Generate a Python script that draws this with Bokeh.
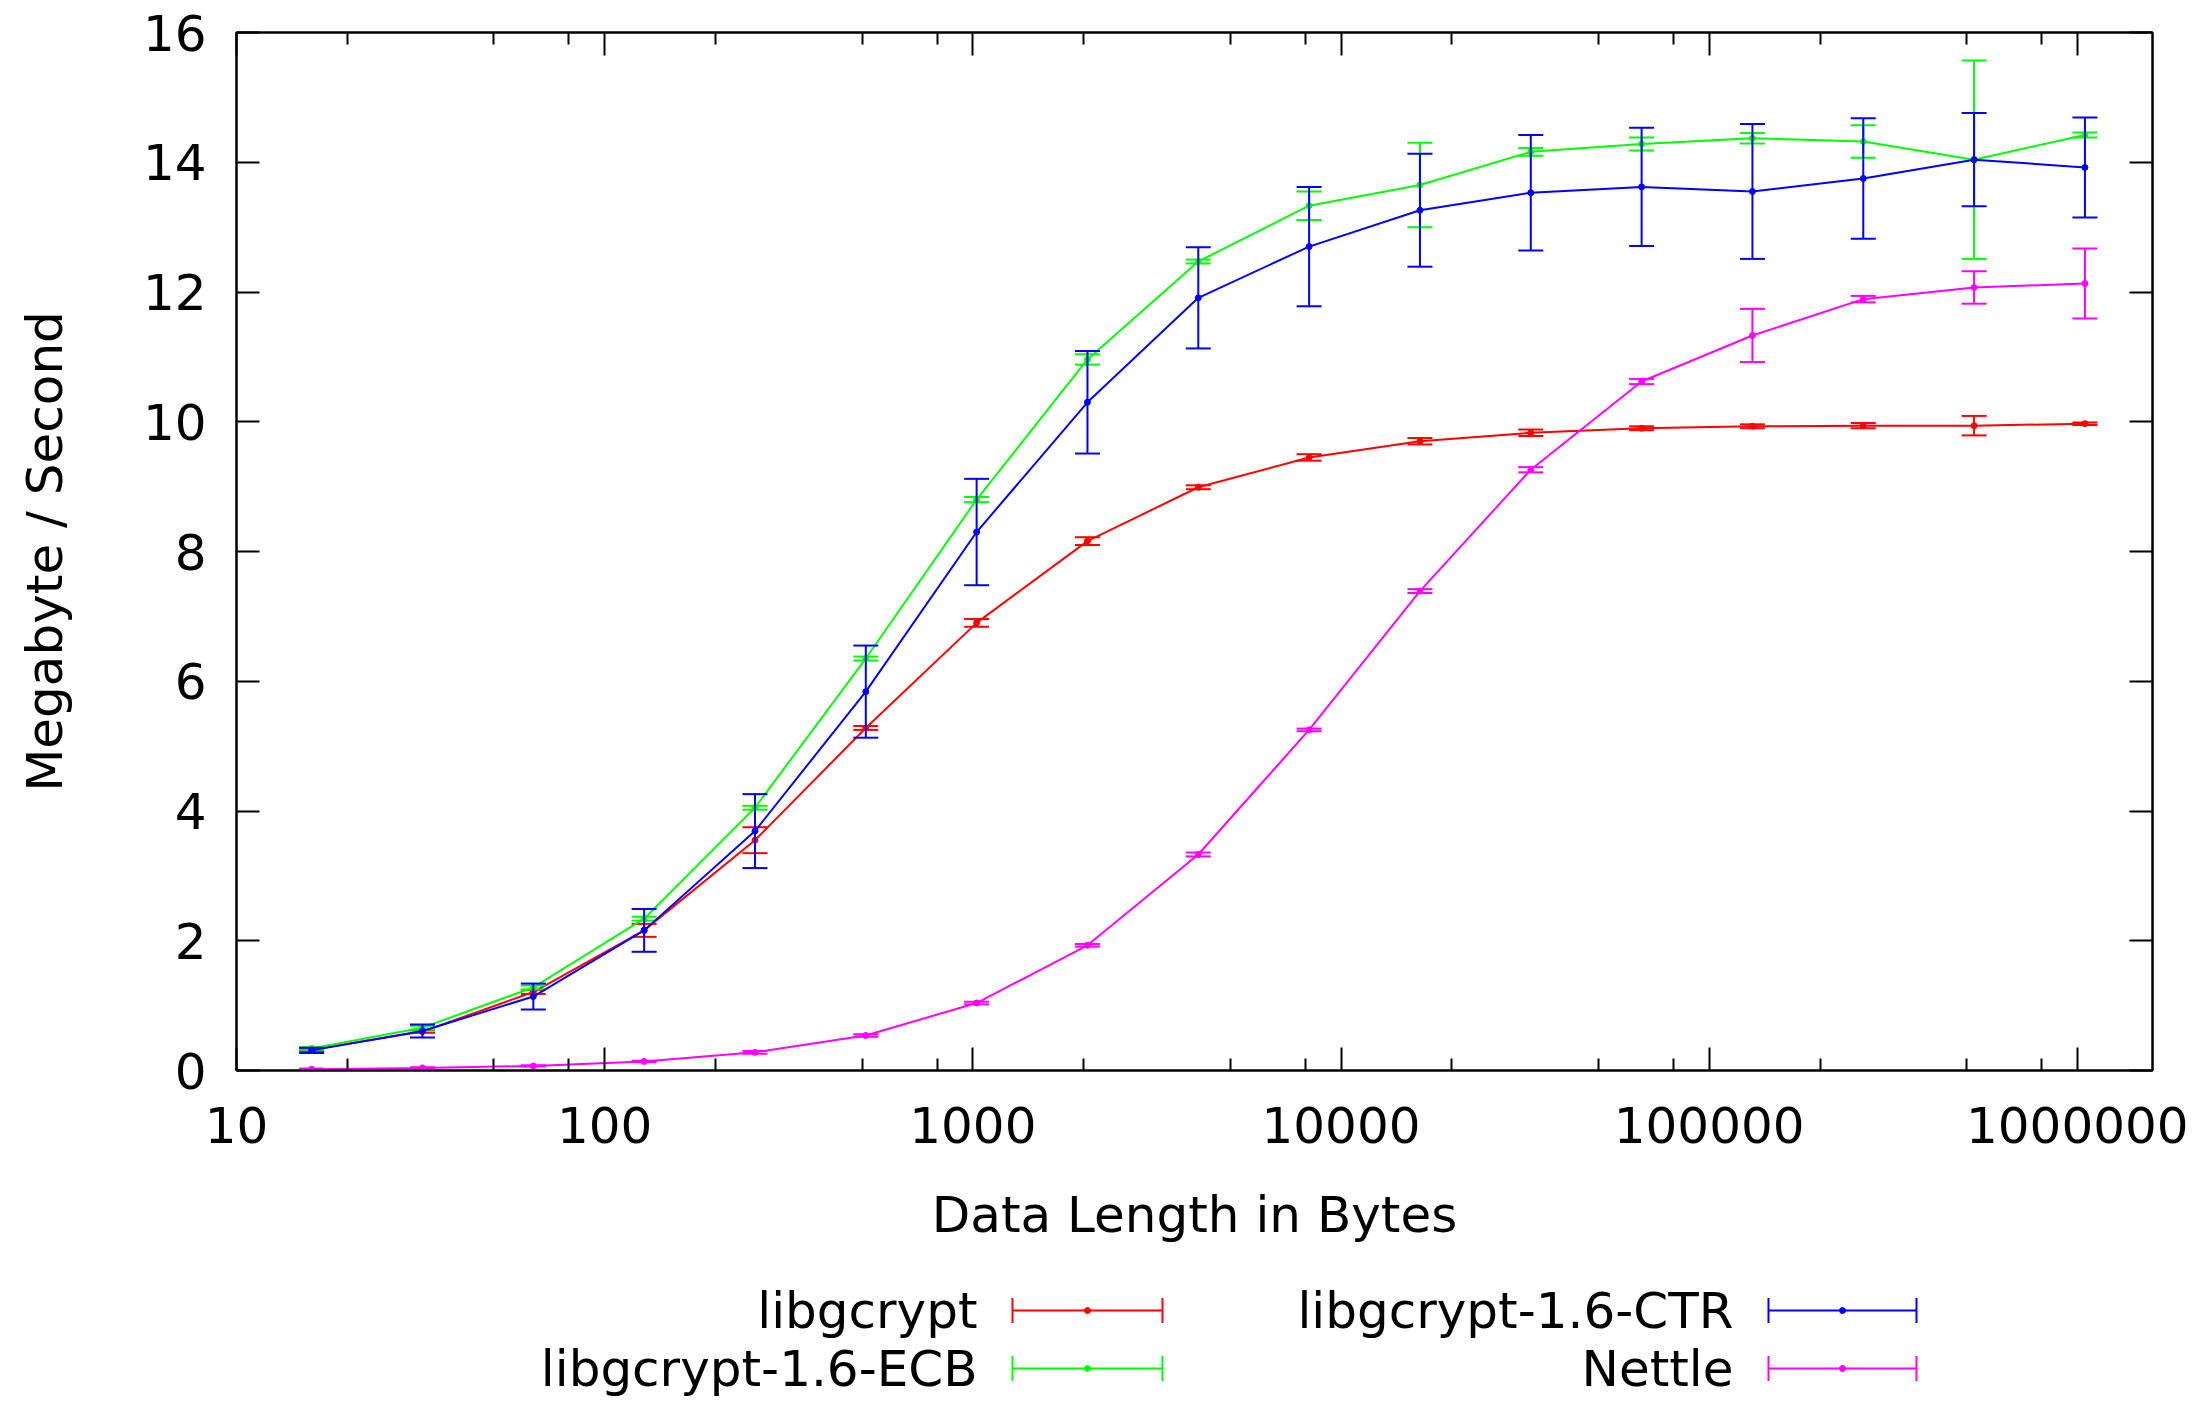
from bokeh.plotting import figure
from bokeh.models import (FixedTicker, LogAxis, LinearAxis, Range1d,
                          NumeralTickFormatter, ColumnDataSource)
from bokeh.layouts import column
from bokeh.core.properties import value
from bokeh.embed import file_html
from bokeh.resources import INLINE

# ---------------- data ----------------
data_length = [16, 32, 64, 128, 256, 512, 1024, 2048, 4096, 8192, 16384,
               32768, 65536, 131072, 262144, 524288, 1048576]

libgcrypt_mean = [0.32, 0.60, 1.21, 2.16, 3.55, 5.28, 6.90, 8.16, 8.99, 9.45,
                  9.70, 9.83, 9.90, 9.93, 9.94, 9.94, 9.97]
libgcrypt_err = [0.02, 0.02, 0.03, 0.10, 0.20, 0.03, 0.06, 0.06, 0.03, 0.05,
                 0.05, 0.05, 0.03, 0.03, 0.04, 0.15, 0.02]

ecb_mean = [0.34, 0.66, 1.28, 2.34, 4.05, 6.35, 8.80, 10.96, 12.47, 13.33,
            13.65, 14.16, 14.28, 14.37, 14.32, 14.04, 14.42]
ecb_err = [0.02, 0.03, 0.03, 0.03, 0.03, 0.03, 0.04, 0.08, 0.03, 0.22,
           0.65, 0.06, 0.10, 0.08, 0.25, 1.53, 0.04]

ctr_mean = [0.31, 0.61, 1.14, 2.16, 3.69, 5.84, 8.30, 10.30, 11.91, 12.70,
            13.26, 13.53, 13.62, 13.55, 13.75, 14.04, 13.92]
ctr_err = [0.04, 0.10, 0.20, 0.33, 0.57, 0.71, 0.82, 0.79, 0.78, 0.92,
           0.87, 0.89, 0.91, 1.04, 0.93, 0.72, 0.77]

nettle_mean = [0.02, 0.04, 0.07, 0.14, 0.28, 0.54, 1.04, 1.93, 3.33, 5.25,
               7.39, 9.26, 10.62, 11.33, 11.89, 12.07, 12.13]
nettle_err = [0.01, 0.01, 0.01, 0.01, 0.02, 0.02, 0.02, 0.02, 0.03, 0.02,
              0.03, 0.04, 0.04, 0.41, 0.05, 0.25, 0.54]

series_names = ["libgcrypt", "libgcrypt-1.6-ECB", "libgcrypt-1.6-CTR", "Nettle"]
series_colors = ["#ff0000", "#00ff00", "#0000ff", "#ff00ff"]
series_means = [libgcrypt_mean, ecb_mean, ctr_mean, nettle_mean]
series_errs = [libgcrypt_err, ecb_err, ctr_err, nettle_err]

x_major_ticks = [10, 100, 1000, 10000, 100000, 1000000]
x_minor_ticks = [m * d for d in [10, 100, 1000, 10000, 100000] for m in (2, 5, 8)]
y_ticks = [0, 2, 4, 6, 8, 10, 12, 14, 16]

x_label = "Data Length in Bytes"
y_label = "Megabyte / Second"

# ---------------- styling / layout ----------------
FONT = "DejaVu Sans"
FS = "50px"
W = 2190
BL, BR, BT = 236, 38, 32          # frame borders (left, right, top)
FRAME_H = 1038
H_MAIN = 1265
H_LEG = 135

p = figure(width=W, height=H_MAIN, x_axis_type="log",
           x_range=Range1d(10, 1.6e6), y_range=Range1d(0, 16),
           output_backend="svg", toolbar_location=None,
           min_border_left=BL, min_border_right=BR,
           min_border_top=BT, min_border_bottom=H_MAIN - BT - FRAME_H)
p.xgrid.visible = False
p.ygrid.visible = False
p.outline_line_color = "black"
p.outline_line_width = 2
p.background_fill_color = "white"
p.border_fill_color = "white"

xt = FixedTicker(ticks=x_major_ticks, minor_ticks=x_minor_ticks)
yt = FixedTicker(ticks=y_ticks, minor_ticks=[])


def style_axis(ax, show_labels):
    ax.axis_line_color = "black"
    ax.axis_line_width = 2
    ax.major_tick_line_color = "black"
    ax.major_tick_line_width = 2
    ax.minor_tick_line_color = "black"
    ax.minor_tick_line_width = 2
    ax.major_tick_in = 23
    ax.major_tick_out = 0
    ax.minor_tick_in = 12
    ax.minor_tick_out = 0
    ax.major_label_text_font = FONT
    ax.major_label_text_color = "black"
    ax.axis_label_text_font = FONT
    ax.axis_label_text_font_style = "normal"
    ax.axis_label_text_color = "black"
    if show_labels:
        ax.major_label_text_font_size = FS
        ax.axis_label_text_font_size = FS
    else:
        ax.major_label_text_font_size = "1px"
        ax.major_label_text_alpha = 0
        ax.major_label_standoff = 0


xa = p.xaxis[0]
xa.ticker = xt
xa.formatter = NumeralTickFormatter(format="0")
xa.axis_label = x_label
style_axis(xa, True)
xa.major_label_standoff = 36
xa.axis_label_standoff = 40

ya = p.yaxis[0]
ya.ticker = yt
ya.axis_label = y_label
style_axis(ya, True)
ya.major_label_standoff = 30
ya.axis_label_standoff = 66

top = LogAxis(ticker=xt)
style_axis(top, False)
p.add_layout(top, "above")
right = LinearAxis(ticker=yt)
style_axis(right, False)
p.add_layout(right, "right")

for name, color, mean, err in zip(series_names, series_colors, series_means, series_errs):
    lower = [m - e for m, e in zip(mean, err)]
    upper = [m + e for m, e in zip(mean, err)]
    src = ColumnDataSource(dict(x=data_length, y=mean, lo=lower, hi=upper))
    p.line("x", "y", source=src, line_color=color, line_width=2)
    p.segment("x", "lo", "x", "hi", source=src, line_color=color, line_width=2)
    p.scatter("x", "lo", source=src, marker="dash", size=25, line_color=color, line_width=2)
    p.scatter("x", "hi", source=src, marker="dash", size=25, line_color=color, line_width=2)
    p.scatter("x", "y", source=src, marker="circle", size=6, line_color=color, fill_color=color)

# ---------------- legend (gnuplot style, below the plot) ----------------
# legend canvas: x in page pixels (frame aligned with the main plot), y in pixels from bottom
leg = figure(width=W, height=H_LEG, x_range=Range1d(BL, W - BR), y_range=Range1d(0, H_LEG),
             output_backend="svg", toolbar_location=None,
             min_border_left=BL, min_border_right=BR, min_border_top=0, min_border_bottom=0,
             x_axis_location=None, y_axis_location=None)
leg.xgrid.visible = False
leg.ygrid.visible = False
leg.outline_line_color = None
leg.border_fill_color = "white"

text_right = [977, 1733, 977, 1733]
row_y = [90, 90, 32, 32]
samp_x0 = [1012, 1768, 1012, 1768]
samp_x1 = [1162, 1916, 1162, 1916]
order = [0, 2, 1, 3]
for slot, idx in enumerate(order):
    c = series_colors[idx]
    y = row_y[slot]
    leg.text(x=[text_right[slot]], y=[y], text=[series_names[idx]],
             text_font=value(FONT), text_font_size=FS, text_align="right",
             text_baseline="middle", text_color="black")
    leg.segment(x0=[samp_x0[slot]], y0=[y], x1=[samp_x1[slot]], y1=[y],
                line_color=c, line_width=2)
    leg.segment(x0=[samp_x0[slot], samp_x1[slot]], y0=[y - 12.5, y - 12.5],
                x1=[samp_x0[slot], samp_x1[slot]], y1=[y + 12.5, y + 12.5],
                line_color=c, line_width=2)
    leg.scatter(x=[(samp_x0[slot] + samp_x1[slot]) / 2], y=[y], marker="circle",
                size=6, line_color=c, fill_color=c)

layout = column(p, leg, spacing=0)
open("out.html", "w").write(file_html(layout, INLINE))
